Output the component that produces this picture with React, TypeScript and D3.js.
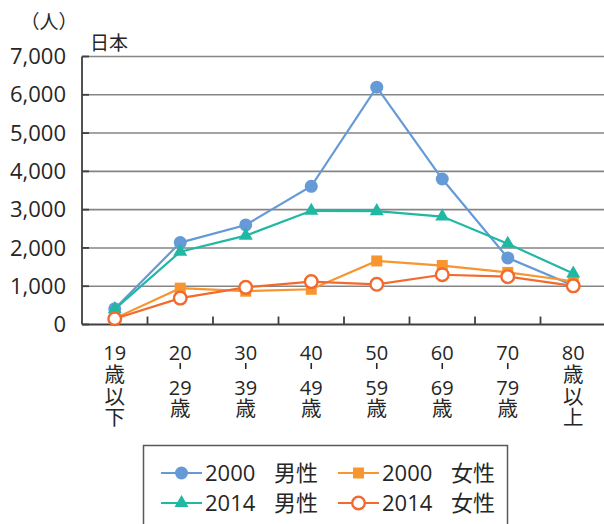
import * as d3 from "d3";
import React, { useEffect, useRef } from "react";

// age groups (x axis), each label is written vertically, one entry per line
const categories = ["19歳以下", "20-29歳", "30-39歳", "40-49歳", "50-59歳", "60-69歳", "70-79歳", "80歳以上"];
const categoryLines = [
  ["19", "歳", "以", "下"],
  ["20", "-", "29", "歳"],
  ["30", "-", "39", "歳"],
  ["40", "-", "49", "歳"],
  ["50", "-", "59", "歳"],
  ["60", "-", "69", "歳"],
  ["70", "-", "79", "歳"],
  ["80", "歳", "以", "上"],
];

const male2000 = [410, 2140, 2600, 3610, 6200, 3800, 1740, 1020];
const female2000 = [160, 950, 870, 920, 1660, 1540, 1360, 1130];
const male2014 = [400, 1900, 2320, 2970, 2960, 2820, 2110, 1330];
const female2014 = [150, 690, 970, 1120, 1050, 1300, 1250, 1010];

const yTicks = [0, 1000, 2000, 3000, 4000, 5000, 6000, 7000];
const seriesYears = ["2000", "2000", "2014", "2014"];
const seriesSex = ["男性", "女性", "男性", "女性"];

const FONT = "'Open Sans', 'Noto Sans CJK JP', sans-serif";

const Chart = ({ width = 604, height = 524 }) => {
  const svgRef = useRef(null);

  useEffect(() => {
    const svg = d3.select(svgRef.current);
    svg.selectAll("*").remove();

    const left = 82;
    const right = 606;
    const top = 56.5;
    const bottom = 324.5;

    const x = d3.scaleBand().domain(categories).range([left, right]);
    const y = d3.scaleLinear().domain([0, 7000]).range([bottom, top]);

    const series = [
      { values: male2000, color: "#659ad6", marker: "circle" },
      { values: female2000, color: "#f7952f", marker: "square" },
      { values: male2014, color: "#20b8a3", marker: "triangle" },
      { values: female2014, color: "#f26a2d", marker: "open" },
    ];

    // gridlines
    svg
      .append("g")
      .selectAll("line")
      .data(yTicks.filter((d) => d > 0))
      .join("line")
      .attr("x1", left)
      .attr("x2", width)
      .attr("y1", (d) => y(d))
      .attr("y2", (d) => y(d))
      .attr("stroke", "#858585")
      .attr("stroke-width", 1.6);

    // y tick labels
    svg
      .append("g")
      .selectAll("text")
      .data(yTicks)
      .join("text")
      .attr("x", 66)
      .attr("y", (d) => y(d))
      .attr("dy", "0.35em")
      .attr("text-anchor", "end")
      .style("font-family", FONT)
      .style("font-size", "22px")
      .style("fill", "#262626")
      .text((d) => d3.format(",")(d));

    // axes
    svg
      .append("line")
      .attr("x1", left)
      .attr("x2", left)
      .attr("y1", top)
      .attr("y2", bottom)
      .attr("stroke", "#404040")
      .attr("stroke-width", 1.8);
    svg
      .append("g")
      .selectAll("line")
      .data(yTicks)
      .join("line")
      .attr("x1", left)
      .attr("x2", left + 7)
      .attr("y1", (d) => y(d))
      .attr("y2", (d) => y(d))
      .attr("stroke", "#404040")
      .attr("stroke-width", 1.8);
    svg
      .append("line")
      .attr("x1", left)
      .attr("x2", width)
      .attr("y1", bottom)
      .attr("y2", bottom)
      .attr("stroke", "#404040")
      .attr("stroke-width", 1.8);
    svg
      .append("g")
      .selectAll("line")
      .data(categories.slice(1))
      .join("line")
      .attr("x1", (d) => x(d) as number)
      .attr("x2", (d) => x(d) as number)
      .attr("y1", bottom)
      .attr("y2", bottom - 8)
      .attr("stroke", "#404040")
      .attr("stroke-width", 1.8);

    // x labels, stacked vertically
    const xl = svg
      .append("g")
      .selectAll("g")
      .data(categories)
      .join("g")
      .attr("transform", (d) => `translate(${(x(d) as number) + x.bandwidth() / 2},0)`)
      .style("font-family", FONT)
      .style("fill", "#262626")
      .attr("text-anchor", "middle");

    xl.each(function (_d, i) {
      const g = d3.select(this);
      const lines = categoryLines[i];
      const put = (t: string, yy: number) =>
        g
          .append("text")
          .attr("y", yy)
          .style("font-size", /\d/.test(t) ? "20px" : "20.5px")
          .text(t);
      if (lines[1] === "-") {
        put(lines[0], 360);
        g.append("rect").attr("x", -0.8).attr("y", 363).attr("width", 1.6).attr("height", 6).attr("fill", "#262626");
        put(lines[2], 395);
        put(lines[3], 415.5);
      } else {
        const ys = [360, 382, 403.5, 424.5];
        lines.forEach((t, j) => put(t, ys[j]));
      }
    });

    // titles
    svg
      .append("text")
      .attr("x", 49)
      .attr("y", 29)
      .attr("text-anchor", "middle")
      .style("font-family", FONT)
      .style("font-size", "19px")
      .style("fill", "#262626")
      .text("（人）");
    svg
      .append("text")
      .attr("x", 90)
      .attr("y", 50)
      .style("font-family", FONT)
      .style("font-size", "19px")
      .style("fill", "#262626")
      .text("日本");

    const drawMarker = (g: any, s: any, cx: number, cy: number) => {
      if (s.marker === "circle") {
        g.append("circle").attr("cx", cx).attr("cy", cy).attr("r", 6.5).attr("fill", s.color);
      } else if (s.marker === "square") {
        g.append("rect").attr("x", cx - 5.5).attr("y", cy - 5.5).attr("width", 11).attr("height", 11).attr("fill", s.color);
      } else if (s.marker === "triangle") {
        g.append("path")
          .attr("d", d3.symbol(d3.symbolTriangle, 85)())
          .attr("transform", `translate(${cx},${cy})`)
          .attr("fill", s.color);
      } else {
        g.append("circle")
          .attr("cx", cx)
          .attr("cy", cy)
          .attr("r", 6.3)
          .attr("fill", "#fff")
          .attr("stroke", s.color)
          .attr("stroke-width", 2.4);
      }
    };

    const line = d3
      .line<number>()
      .x((_d, i) => (x(categories[i]) as number) + x.bandwidth() / 2)
      .y((d) => y(d));

    series.forEach((s) => {
      const g = svg.append("g");
      g.append("path")
        .attr("d", line(s.values))
        .attr("fill", "none")
        .attr("stroke", s.color)
        .attr("stroke-width", 2.2);
      s.values.forEach((v, i) => {
        drawMarker(g, s, (x(categories[i]) as number) + x.bandwidth() / 2, y(v));
      });
    });

    // legend
    const lg = svg.append("g");
    lg.append("rect")
      .attr("x", 143.5)
      .attr("y", 445.5)
      .attr("width", 364)
      .attr("height", 100)
      .attr("fill", "#fff")
      .attr("stroke", "#595959")
      .attr("stroke-width", 1.5);
    const pos = [
      [161, 473],
      [338, 473],
      [161, 503],
      [338, 503],
    ];
    series.forEach((s, i) => {
      const [lx, ly] = pos[i];
      const g = lg.append("g").style("font-family", FONT).style("font-size", "22px").style("fill", "#262626");
      g.append("line")
        .attr("x1", lx)
        .attr("x2", lx + 41)
        .attr("y1", ly)
        .attr("y2", ly)
        .attr("stroke", s.color)
        .attr("stroke-width", 2.2);
      drawMarker(g, s, lx + 20.5, ly);
      g.append("text").attr("x", lx + 44).attr("y", ly).attr("dy", "0.36em").text(seriesYears[i]);
      g.append("text").attr("x", lx + 113).attr("y", ly).attr("dy", "0.36em").text(seriesSex[i]);
    });
  }, [width, height]);

  return <svg ref={svgRef} width={width} height={height} style={{ display: "block" }}></svg>;
};

export default function App() {
  return (
    <div style={{ position: "absolute", left: 0, top: 0 }}>
      <Chart />
    </div>
  );
}
